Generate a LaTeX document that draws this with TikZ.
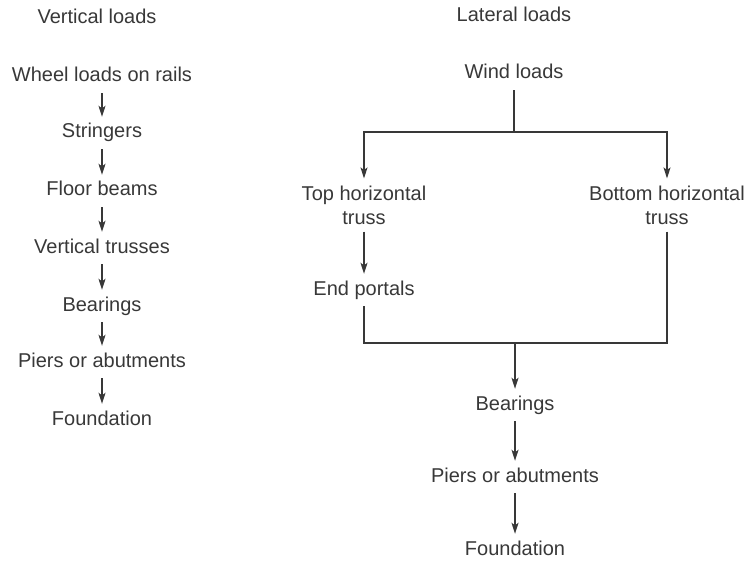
\documentclass[tikz,border=0pt]{standalone}
\usepackage{fontspec}
\setmainfont{Liberation Sans}
\usepackage{tikz}
\usepackage{xcolor}
\usetikzlibrary{arrows.meta}
\definecolor{ink}{HTML}{383838}

\begin{document}
\begin{tikzpicture}[x=1pt,y=-1pt]
\tikzstyle{every node}+=[inner xsep=0pt,inner ysep=7pt,text=ink,font=\fontsize{20}{24}\selectfont]
\tikzstyle{one}=[text height=14pt,text depth=4pt]
\tikzstyle{two}=[align=center]
\tikzstyle{link}=[draw=ink,line width=1.4pt]
\tikzstyle{flow}=[link,-{Stealth[length=11pt,width=7pt,inset=2.5pt]}]
\useasboundingbox (0,0) rectangle (751,561);
% vertical loads
\node [one] (vl) at (97,19) {Vertical loads};
\node [one] (wheel) at (102,77) {Wheel loads on rails};
\node [one] (str) at (102,133) {Stringers};
\node [one] (floor) at (102,191) {Floor beams};
\node [one] (vtruss) at (102,248) {Vertical trusses};
\node [one] (vbear) at (102,306) {Bearings};
\node [one] (vpier) at (102,362) {Piers or abutments};
\node [one] (vfound) at (102,420) {Foundation};
\draw [flow] (wheel) -- (str);
\draw [flow] (str) -- (floor);
\draw [flow] (floor) -- (vtruss);
\draw [flow] (vtruss) -- (vbear);
\draw [flow] (vbear) -- (vpier);
\draw [flow] (vpier) -- (vfound);
% lateral loads
\node [one] (ll) at (514,17) {Lateral loads};
\node [one] (wind) at (514,74) {Wind loads};
\node [two] (top) at (364,205) {Top horizontal\\truss};
\node [two] (bot) at (667,205) {Bottom horizontal\\truss};
\node [one] (endp) at (364,290) {End portals};
\node [one] (lbear) at (515,405) {Bearings};
\node [one] (lpier) at (515,477) {Piers or abutments};
\node [one] (lfound) at (515,550) {Foundation};
\coordinate (split) at (514,132);
\coordinate (join) at (515,343);
\draw [link] (wind) -- (split);
\draw [flow] (split) -| (top);
\draw [flow] (split) -| (bot);
\draw [flow] (top) -- (endp);
\draw [link] (endp) |- (join);
\draw [link] (bot) |- (join);
\draw [flow] (join) -- (lbear);
\draw [flow] (lbear) -- (lpier);
\draw [flow] (lpier) -- (lfound);
\end{tikzpicture}
\end{document}
